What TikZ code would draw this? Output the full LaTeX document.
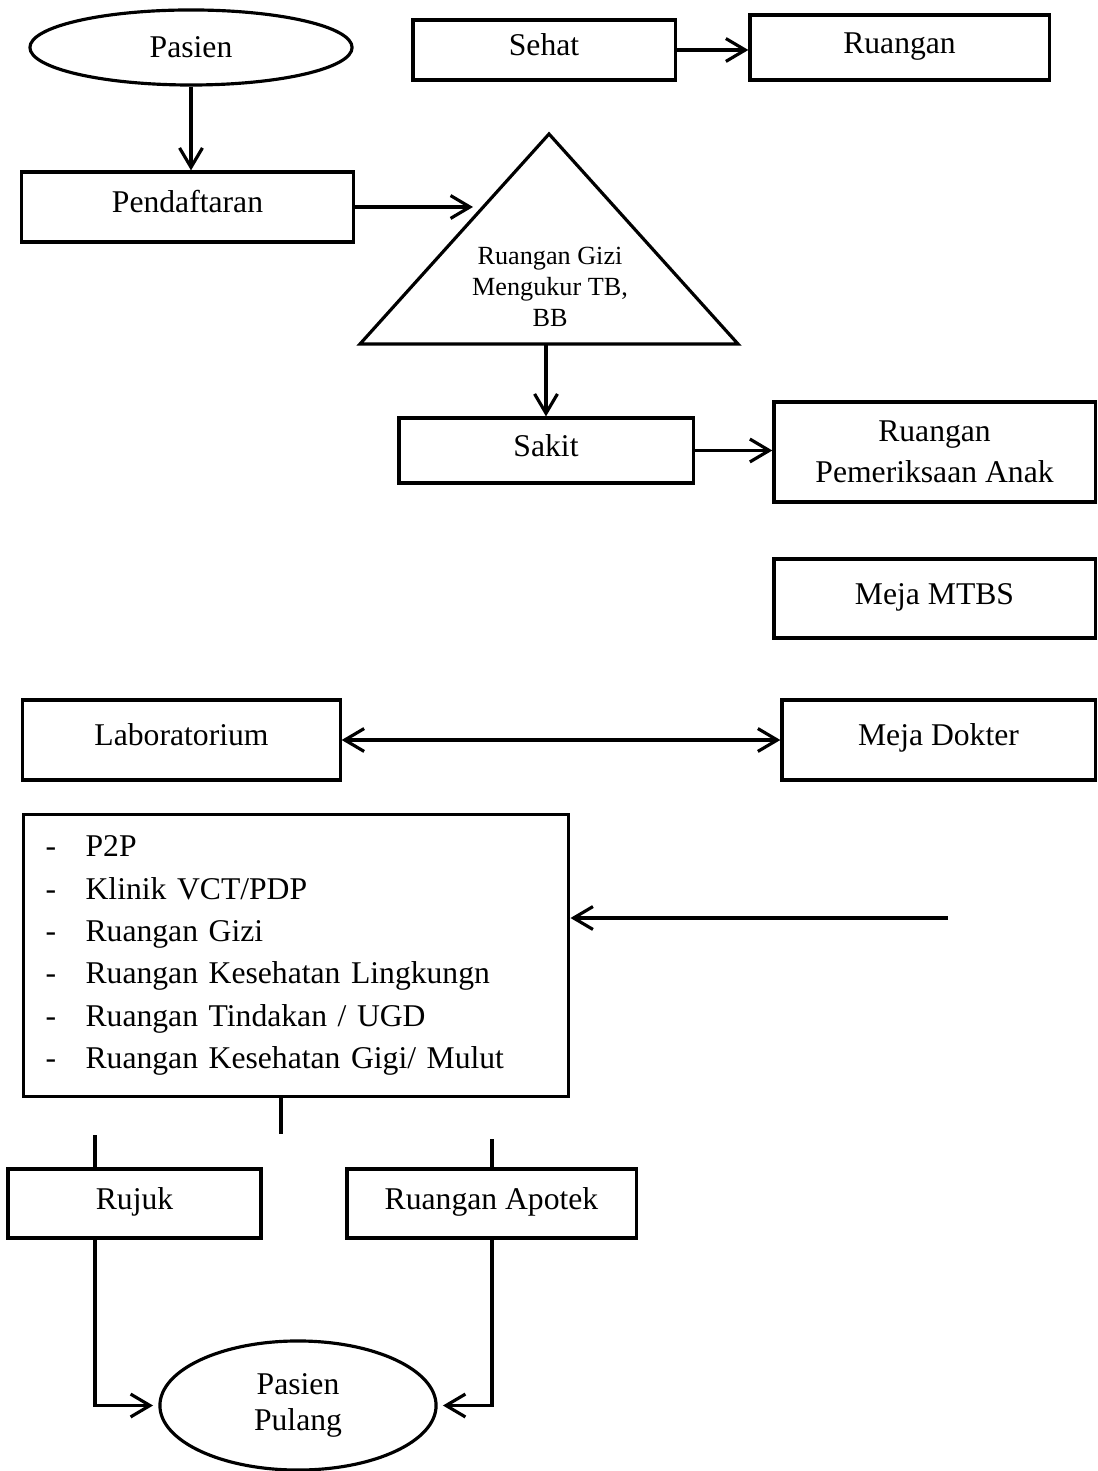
\documentclass[tikz,border=0pt]{standalone}
\usepackage{fontspec}
\setmainfont{Liberation Serif}
\usetikzlibrary{arrows.meta,positioning,calc,shapes.geometric}
\tikzset{
  >={Straight Barb[length=5.5pt,width=6.5pt]},
  box/.style={rectangle,draw,line width=0.9pt,inner sep=0pt,text height=0.68em,text depth=0.35em},
  box2/.style={rectangle,draw,line width=0.9pt,inner sep=0pt,align=center},
  oval/.style={ellipse,draw,line width=0.9pt,inner sep=0pt,align=center},
  tr/.style={->,line width=0.9pt},
  tr2/.style={<->,line width=0.9pt},
  ln/.style={line width=0.9pt},
  lst/.style={rectangle,draw,line width=0.9pt,anchor=north west,inner xsep=0.22cm,inner ysep=0pt,
    text width=5.01cm,minimum height=2.82cm,align=left,font=\fontsize{9}{12.06}\selectfont}
}
\newcommand{\dashitem}{\makebox[0.40cm][l]{-}}

\begin{document}
\begin{tikzpicture}[x=0.01cm,y=-0.01cm,font=\fontsize{9}{11.7}\selectfont]
    \useasboundingbox (0,0) rectangle (1097,1471);

    % Pasien masuk
    \node[oval,minimum width=3.22cm,minimum height=0.75cm] (pasien) at (191,47.5) {Pasien};
    \node[box,minimum width=3.31cm,minimum height=0.70cm] (daftar) at (187.5,207) {Pendaftaran};
    \node[box,minimum width=2.62cm,minimum height=0.60cm] (sehat) at (544,50) {Sehat};
    \node[box,minimum width=2.99cm,minimum height=0.65cm] (ruang) at (899.5,47.5) {Ruangan};

    % Ruangan gizi (segitiga)
    \coordinate (gz-top) at (549,134);
    \coordinate (gz-left) at (360,344);
    \coordinate (gz-right) at (738,344);
    \draw[ln,line join=miter] (gz-top) -- (gz-left) -- (gz-right) -- cycle;
    \node[align=center,font=\fontsize{7.45}{8.8}\selectfont] (gizi) at (550,287) {Ruangan Gizi\\Mengukur TB,\\BB};
    \coordinate (gz-in) at (473,207);
    \coordinate (gz-out) at (546,344);

    % Pemeriksaan
    \node[box,minimum width=2.94cm,minimum height=0.65cm] (sakit) at (546,450.5) {Sakit};
    \node[box2,minimum width=3.21cm,minimum height=1.00cm] (periksa) at (934.5,452) {Ruangan\\Pemeriksaan Anak};
    \node[box,minimum width=3.21cm,minimum height=0.79cm] (mtbs) at (934.5,598.5) {Meja MTBS};
    \node[box,minimum width=3.13cm,minimum height=0.80cm] (dokter) at (938.5,740) {Meja Dokter};
    \node[box,minimum width=3.17cm,minimum height=0.80cm] (lab) at (181.5,740) {Laboratorium};

    % Daftar ruangan rujukan dalam
    \node[lst] (poli) at (22,813) {\dashitem P2P\\
      \dashitem Klinik VCT/PDP\\
      \dashitem Ruangan Gizi\\
      \dashitem Ruangan Kesehatan Lingkungn\\
      \dashitem Ruangan Tindakan / UGD\\
      \dashitem Ruangan Kesehatan Gigi/ Mulut};

    % Keluar
    \node[box,minimum width=2.53cm,minimum height=0.69cm] (rujuk) at (134.5,1203.5) {Rujuk};
    \node[box,minimum width=2.89cm,minimum height=0.69cm] (apotek) at (491.5,1203.5) {Ruangan Apotek};
    \node[oval,minimum width=2.76cm,minimum height=1.29cm,font=\fontsize{9}{10.3}\selectfont] (pulang) at (298,1405.5) {Pasien\\Pulang};

    % Panah
    \draw[tr] (pasien.south) -- (pasien.south |- daftar.north);
    \draw[tr] (sehat.east) -- (sehat.east -| ruang.west);
    \draw[tr] (daftar.east) -- (gz-in);
    \draw[tr] (gz-out) -- (gz-out |- sakit.north);
    \draw[tr] (sakit.east) -- (sakit.east -| periksa.west);
    \draw[tr2] (lab.east) -- (lab.east -| dokter.west);
    \coordinate (kirim) at (948,918);
    \draw[tr] (kirim) -- (kirim -| poli.east);

    % Garis pendek
    \coordinate (pA) at (281,1134);
    \draw[ln] (poli.south -| pA) -- (pA);
    \coordinate (pB) at (95,1135);
    \draw[ln] (pB) -- (pB |- rujuk.north);
    \coordinate (pC) at (492,1139);
    \draw[ln] (pC) -- (pC |- apotek.north);

    \draw[tr,shorten >=1.5pt] (rujuk.south -| pB) |- (pulang.west);
    \draw[tr,shorten >=1.5pt] (apotek.south -| pC) |- (pulang.east);
\end{tikzpicture}
\end{document}
